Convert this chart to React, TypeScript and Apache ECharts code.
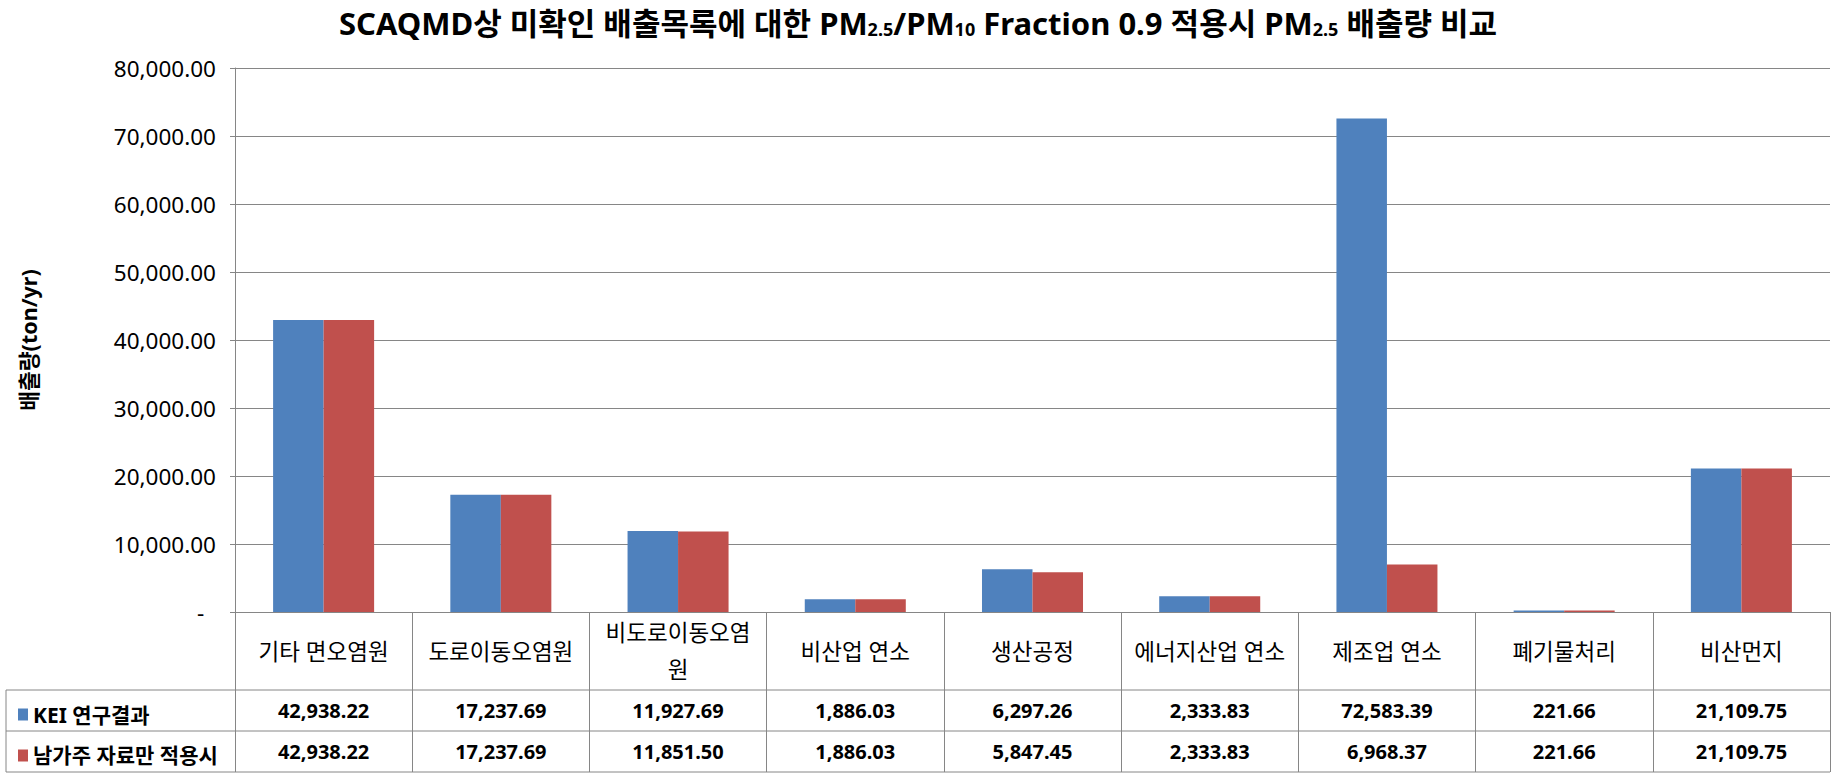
import React, { useEffect, useRef } from "react";
import * as echarts from "echarts";

const categories = [
  "기타 면오염원",
  "도로이동오염원",
  "비도로이동오염원",
  "비산업 연소",
  "생산공정",
  "에너지산업 연소",
  "제조업 연소",
  "폐기물처리",
  "비산먼지",
];
const seriesNames = ["KEI 연구결과", "남가주 자료만 적용시"];
const keiValues = [42938.22, 17237.69, 11927.69, 1886.03, 6297.26, 2333.83, 72583.39, 221.66, 21109.75];
const southCalValues = [42938.22, 17237.69, 11851.5, 1886.03, 5847.45, 2333.83, 6968.37, 221.66, 21109.75];
const yTicks = { min: 0, max: 80000, interval: 10000 };

const BLUE = "#4F81BD";
const RED = "#C0504D";
const LINE = "#868686";
const FONT = "'Noto Sans', 'Noto Sans CJK KR', sans-serif";

const fmt = (v: number) =>
  v.toLocaleString("en-US", { minimumFractionDigits: 2, maximumFractionDigits: 2 });

export default function App() {
  const ref = useRef<HTMLDivElement>(null);
  useEffect(() => {
    document.body.style.margin = "0";
    document.body.style.overflow = "hidden";
    const chart = echarts.init(ref.current!, null, { renderer: "svg" });
    const gridLeft = 235;
    const gridRight = 6;
    const gridTop = 68;
    const gridBottom = 166;
    const axisY = 778 - gridBottom;
    const row1 = 690;
    const row2 = 731;
    const row3 = 772;
    const common = {
      type: "category" as const,
      data: categories,
      position: "bottom" as const,
      gridIndex: 0,
      axisLine: { show: false, onZero: false },
      axisTick: { show: false },
      splitLine: { show: false },
    };
    chart.setOption({
      animation: false,
      textStyle: { fontFamily: FONT },
      title: {
        left: "center",
        top: 2,
        text:
          "SCAQMD상 미확인 배출목록에 대한 PM{sub|2.5}/PM{sub|10} Fraction 0.9 적용시 PM{sub|2.5} 배출량 비교",
        textStyle: {
          fontFamily: FONT,
          fontSize: 31,
          fontWeight: "bold",
          color: "#000",
          rich: {
            sub: { fontFamily: FONT, fontSize: 18, fontWeight: "bold", color: "#000", verticalAlign: "bottom" },
          },
        },
      },
      legend: {
        orient: "vertical",
        left: 13,
        top: 699,
        itemWidth: 10,
        itemHeight: 12,
        itemGap: 20,
        selectedMode: false,
        icon: "rect",
        data: seriesNames,
        textStyle: { fontFamily: FONT, fontSize: 21, fontWeight: "bold", color: "#000", padding: [0, 0, 0, 0] },
      },
      grid: { left: gridLeft, right: gridRight, top: gridTop, bottom: gridBottom, containLabel: false },
      xAxis: [
        {
          ...common,
          axisLine: { show: true, onZero: false, lineStyle: { color: LINE, width: 1 } },
          axisTick: { show: true, length: row3 - axisY, interval: 0, lineStyle: { color: LINE, width: 1 } },
          axisLabel: {
            interval: 0,
            margin: 39,
            verticalAlign: "middle",
            fontSize: 22.5,
            color: "#000",
            fontFamily: FONT,
            width: 171,
            overflow: "break",
            lineHeight: 37,
          },
        },
        {
          ...common,
          axisLabel: {
            interval: 0,
            margin: 98,
            verticalAlign: "middle",
            fontSize: 20,
            fontWeight: "bold",
            color: "#000",
            fontFamily: FONT,
            formatter: (_v: string, i: number) => fmt(keiValues[i]),
          },
        },
        {
          ...common,
          axisLabel: {
            interval: 0,
            margin: 139,
            verticalAlign: "middle",
            fontSize: 20,
            fontWeight: "bold",
            color: "#000",
            fontFamily: FONT,
            formatter: (_v: string, i: number) => fmt(southCalValues[i]),
          },
        },
      ],
      yAxis: {
        type: "value",
        min: yTicks.min,
        max: yTicks.max,
        interval: yTicks.interval,
        name: "배출량(ton/yr)",
        nameLocation: "middle",
        nameGap: 196,
        nameTextStyle: { fontFamily: FONT, fontSize: 21.5, fontWeight: "bold", color: "#000" },
        axisLine: { show: true, lineStyle: { color: LINE, width: 1 } },
        axisTick: { show: true, length: 5, lineStyle: { color: LINE } },
        splitLine: { show: true, lineStyle: { color: LINE, width: 1 } },
        axisLabel: {
          margin: 19,
          fontSize: 22.5,
          color: "#000",
          fontFamily: FONT,
          formatter: (v: number) => (v === 0 ? "-  " : fmt(v)),
        },
      },
      series: [
        {
          name: seriesNames[0],
          type: "bar",
          xAxisIndex: 0,
          data: keiValues,
          barGap: "0%",
          barCategoryGap: "43%",
          itemStyle: { color: BLUE },
        },
        {
          name: seriesNames[1],
          type: "bar",
          xAxisIndex: 0,
          data: southCalValues,
          barGap: "0%",
          barCategoryGap: "43%",
          itemStyle: { color: RED },
        },
      ],
      graphic: [
        { type: "line", shape: { x1: 6, y1: row1, x2: 1836 - gridRight, y2: row1 }, style: { stroke: LINE, lineWidth: 1 } },
        { type: "line", shape: { x1: 6, y1: row2, x2: 1836 - gridRight, y2: row2 }, style: { stroke: LINE, lineWidth: 1 } },
        { type: "line", shape: { x1: 6, y1: row3, x2: 1836 - gridRight, y2: row3 }, style: { stroke: LINE, lineWidth: 1 } },
        { type: "line", shape: { x1: 6, y1: row1, x2: 6, y2: row3 }, style: { stroke: LINE, lineWidth: 1 } },
      ],
    });
    return () => chart.dispose();
  }, []);
  return <div ref={ref} style={{ width: 1836, height: 778 }} />;
}
